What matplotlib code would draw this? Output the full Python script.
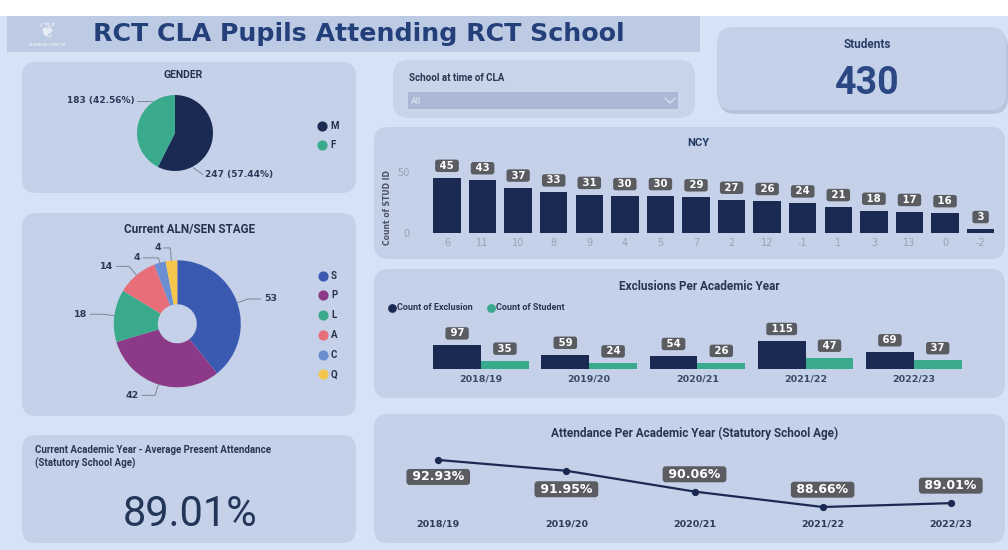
"""RCT CLA pupils dashboard - static rebuild of the Power BI page (1008x550 px)."""
import numpy as np
import matplotlib
matplotlib.use("Agg")
import matplotlib.pyplot as plt
from matplotlib.patches import FancyBboxPatch, Rectangle

# ---------------- data ----------------
GENDER = ["M", "F"]
GENDER_N = [247, 183]
STAGE = ["S", "P", "L", "A", "C", "Q"]
STAGE_N = [53, 42, 18, 14, 4, 4]
NCY = ["6", "11", "10", "8", "9", "4", "5", "7", "2", "12", "-1", "1", "3", "13", "0", "-2"]
NCY_N = [45, 43, 37, 33, 31, 30, 30, 29, 27, 26, 24, 21, 18, 17, 16, 3]
YEARS = ["2018/19", "2019/20", "2020/21", "2021/22", "2022/23"]
EXCLUSIONS = [97, 59, 54, 115, 69]
EXCL_STUDENTS = [35, 24, 26, 47, 37]
ATTENDANCE = [92.93, 91.95, 90.06, 88.66, 89.01]
STUDENTS_TOTAL = 430
CURRENT_ATTENDANCE = 89.01

# ---------------- style ----------------
NAVY = "#1b2a52"
TEAL = "#3aaa8c"
PAGE = "#d6e3f7"
PANEL = "#c4d1e8"
BANNER = "#bccae3"
INK = "#263249"
LBOX = "#5a5c61"
GREY = "#98a2b4"
LEADER = "#7d879a"
STAGE_COLORS = ["#3a59b0", "#8c3a87", "#3aaa8c", "#e86f79", "#6b8fd2", "#f4c64c"]
TITLE_FONT = ["Roboto", "DejaVu Sans"]

W, H = 1008, 550
plt.rcParams["font.family"] = ["DejaVu Sans"]

fig = plt.figure(figsize=(W / 100, H / 100), dpi=100)
fig.patch.set_facecolor(PAGE)
bg = fig.add_axes([0, 0, 1, 1])
bg.set_xlim(0, W); bg.set_ylim(H, 0); bg.axis("off")


def px_axes(x0, y0, x1, y1):
    """axes placed by pixel box (top-left origin)"""
    ax = fig.add_axes([x0 / W, 1 - y1 / H, (x1 - x0) / W, (y1 - y0) / H])
    ax.set_facecolor("none")
    return ax


def card(x0, y0, x1, y1, fc=PANEL, r=14, shadow=False):
    if shadow:
        bg.add_patch(FancyBboxPatch((x0 + r + 2, y0 + r + 4), x1 - x0 - 2 * r, y1 - y0 - 2 * r,
                                    boxstyle=f"round,pad={r}", fc="#9fadc6", ec="none", alpha=0.55))
    bg.add_patch(FancyBboxPatch((x0 + r, y0 + r), x1 - x0 - 2 * r, y1 - y0 - 2 * r,
                                boxstyle=f"round,pad={r}", fc=fc, ec="none"))


def label_box(ax, x, y, s, dy, size=7.3):
    ax.annotate(f" {s} ", (x, y), xytext=(0, dy), textcoords="offset pixels",
                ha="center", va="center", color="white", fontsize=size, fontweight="bold",
                bbox=dict(boxstyle="round,pad=0.12,rounding_size=0.25", fc=LBOX, ec="none"),
                annotation_clip=False, zorder=6)


def clean(ax):
    ax.set_yticks([])
    for sp in ax.spines.values():
        sp.set_visible(False)


# ---------------- page chrome ----------------
bg.add_patch(Rectangle((0, 0), W, 16, fc="white", ec="none"))
bg.add_patch(Rectangle((7, 16), 693, 36, fc=BANNER, ec="none"))
bg.text(93, 34.5, "RCT CLA Pupils Attending RCT School", fontsize=18.2, fontweight="bold",
        color="#23407a", va="center")
bg.text(47, 45, "RHONDDA CYNON TAF", fontsize=2.3, color="white", ha="center", va="center")
bg.text(47, 31, "\u2766", fontsize=15, color="#eef3fb", ha="center", va="center", alpha=0.85)

card(22, 62, 356, 193)
card(22, 213, 356, 416)
card(22, 435, 356, 543)
card(393, 60, 695, 118, fc="#c8d4ea", r=16)
card(374, 127, 1005, 259)
card(374, 269, 1005, 398)
card(374, 414, 1005, 543)
card(717, 27, 1006, 110, r=16, shadow=True)

# ---------------- students KPI ----------------
bg.text(867, 44, "Students", fontsize=8.5, fontweight="bold", color="#2b3f66",
        ha="center", va="center", family=TITLE_FONT)
bg.text(867, 84, f"{STUDENTS_TOTAL}", fontsize=27, fontweight="bold", color="#2b4784",
        ha="center", va="center", family=TITLE_FONT)

# ---------------- slicer ----------------
bg.text(409, 78, "School at time of CLA", fontsize=7, fontweight="bold", color="#2a3550",
        va="center", family=TITLE_FONT)
bg.add_patch(Rectangle((408, 92), 270, 17, fc="#aab8d6", ec="none"))
bg.text(411, 101, "All", fontsize=6.5, color="#e6ecf7", va="center", family=TITLE_FONT)
bg.plot([665, 670, 675], [98, 103, 98], color="#e0e7f3", lw=0.8)

# ---------------- gender pie ----------------
bg.text(183, 75, "GENDER", fontsize=7.5, fontweight="bold", color=INK, ha="center",
        va="center", family=TITLE_FONT)
axg = px_axes(137, 95, 213, 171)
wg, _ = axg.pie(GENDER_N, colors=[NAVY, TEAL], startangle=90, counterclock=False,
                radius=1, wedgeprops=dict(linewidth=0))
axg.set_xlim(-1, 1); axg.set_ylim(-1, 1)
total = sum(GENDER_N)
# leader anchor angle, end offset (in radius units)
GENDER_LEADERS = [(-62, 0.24, -0.17), (125, -0.40, 0.0)]
for n, (ang, ex, ey) in zip(GENDER_N, GENDER_LEADERS):
    t = np.deg2rad(ang)
    sx, sy = 1.04 * np.cos(t), 1.04 * np.sin(t)
    axg.plot([sx, sx + ex], [sy, sy + ey], color=LEADER, lw=0.7, clip_on=False)
    side = 1 if ex > 0 else -1
    axg.text(sx + ex + 0.07 * side, sy + ey, f"{n} ({n / total * 100:.2f}%)",
             ha="left" if side > 0 else "right", va="center", fontsize=6.5,
             fontweight="bold", color="#2b3a5a")
for i, (g, c) in enumerate(zip(GENDER, [NAVY, TEAL])):
    y = 126 + i * 19
    bg.scatter(322, y, s=40, color=c, zorder=3)
    bg.text(330, y, g, fontsize=7, fontweight="bold", color=INK, va="center", family=TITLE_FONT)

# ---------------- ALN/SEN donut ----------------
bg.text(190, 230, "Current ALN/SEN STAGE", fontsize=8.5, fontweight="bold", color=INK,
        ha="center", va="center", family=TITLE_FONT)
cx, cy, r = 177.3, 323.8, 63.5
axd = px_axes(cx - r, cy - r, cx + r, cy + r)
wd, _ = axd.pie(STAGE_N, colors=STAGE_COLORS, startangle=90, counterclock=False, radius=1,
                wedgeprops=dict(width=(r - 19.5) / r, linewidth=0))
axd.set_xlim(-1, 1); axd.set_ylim(-1, 1)
STAGE_LEADERS = [(1.18, 0.2)] * 4 + [(1.08, 0.24), (1.2, 0.1)]
for w, n, (er, hl) in zip(wd, STAGE_N, STAGE_LEADERS):
    t = np.deg2rad((w.theta1 + w.theta2) / 2)
    c, s = np.cos(t), np.sin(t)
    side = 1 if c > 0 else -1
    xs = [c, er * c, er * c + side * hl]
    ys = [s, er * s, er * s]
    axd.plot(xs, ys, color=LEADER, lw=0.7, clip_on=False)
    axd.text(xs[-1] + side * 0.05, ys[-1], str(n), ha="left" if side > 0 else "right",
             va="center", fontsize=6.8, fontweight="bold", color="#2b3a5a")
for i, (g, c) in enumerate(zip(STAGE, STAGE_COLORS)):
    y = 275.7 + i * 19.7
    bg.scatter(323, y, s=40, color=c, zorder=3)
    bg.text(331, y, g, fontsize=7, fontweight="bold", color=INK, va="center", family=TITLE_FONT)

# ---------------- current attendance KPI ----------------
bg.text(35, 450, "Current Academic Year - Average Present Attendance", fontsize=7,
        fontweight="bold", color="#2b3550", va="center", family=TITLE_FONT)
bg.text(35, 463, "(Statutory School Age)", fontsize=7, fontweight="bold", color="#2b3550",
        va="center", family=TITLE_FONT)
bg.text(190, 514, f"{CURRENT_ATTENDANCE:.2f}%", fontsize=30, color="#233558",
        ha="center", va="center", family=TITLE_FONT)

# ---------------- NCY bars ----------------
bg.text(698, 143, "NCY", fontsize=8, fontweight="bold", color="#233a66", ha="center",
        va="center", family=TITLE_FONT)
axn = px_axes(429.2, 159.5, 998.4, 232.7)
xn = np.arange(len(NCY))
axn.bar(xn, NCY_N, width=0.77, color=NAVY)
axn.set_xlim(-0.5, len(NCY) - 0.5); axn.set_ylim(0, 60)
for i, v in enumerate(NCY_N):
    label_box(axn, i, v, v, 12)
clean(axn)
axn.set_xticks(xn, NCY)
axn.set_yticks([0, 50])
axn.tick_params(axis="x", length=0, pad=4, labelsize=7, labelcolor=GREY)
axn.tick_params(axis="y", length=0, pad=14, labelsize=7, labelcolor=GREY)
axn.set_ylabel("Count of STUD ID", fontsize=5.5, fontweight="bold", color="#4a5264")
axn.yaxis.set_label_coords(-0.066, 0.344)

# ---------------- exclusions grouped bars ----------------
bg.text(699, 286, "Exclusions Per Academic Year", fontsize=8.5, fontweight="bold",
        color="#2a3550", ha="center", va="center", family=TITLE_FONT)
bg.scatter(392, 308, s=28, color=NAVY, zorder=3)
bg.text(397, 308, "Count of Exclusion", fontsize=6.5, fontweight="bold", color="#2a3550",
        va="center", family=TITLE_FONT)
bg.scatter(491, 308, s=28, color=TEAL, zorder=3)
bg.text(496, 308, "Count of Student", fontsize=6.5, fontweight="bold", color="#2a3550",
        va="center", family=TITLE_FONT)
axe = px_axes(426.9, 330, 967.9, 369.3)
xe = np.arange(len(YEARS))
bw = 0.442
axe.bar(xe - bw / 2, EXCLUSIONS, bw, color=NAVY)
axe.bar(xe + bw / 2, EXCL_STUDENTS, bw, color=TEAL)
axe.set_xlim(-0.5, len(YEARS) - 0.5); axe.set_ylim(0, 159.4)
for i in xe:
    label_box(axe, i - bw / 2, EXCLUSIONS[i], EXCLUSIONS[i], 12)
    label_box(axe, i + bw / 2, EXCL_STUDENTS[i], EXCL_STUDENTS[i], 12)
clean(axe)
axe.set_xticks(xe, YEARS)
axe.tick_params(axis="x", length=0, pad=4, labelsize=6.8, labelcolor="#3c4a6a")
for lab in axe.get_xticklabels():
    lab.set_fontweight("bold")

# ---------------- attendance line ----------------
bg.text(694.5, 433, "Attendance Per Academic Year (Statutory School Age)", fontsize=8.5,
        fontweight="bold", color="#2a3550", ha="center", va="center", family=TITLE_FONT)
axa = px_axes(399.8, 455, 989.2, 508)
xa = np.arange(len(YEARS))
axa.plot(xa, ATTENDANCE, color=NAVY, lw=1.6, marker="o", ms=4.2, clip_on=False, zorder=4)
axa.set_xlim(-0.3, len(YEARS) - 0.7); axa.set_ylim(88.57, 93.38)
ATT_LABEL_DY = [-17, -18.5, 17.3, 17.3, 17.5]
for i, (v, dy) in enumerate(zip(ATTENDANCE, ATT_LABEL_DY)):
    label_box(axa, i, v, f"{v:.2f}%", dy, size=9)
clean(axa)
axa.set_xticks(xa, YEARS)
axa.tick_params(axis="x", length=0, pad=8.5, labelsize=6.8, labelcolor="#2f3a55")
for lab in axa.get_xticklabels():
    lab.set_fontweight("bold")

fig.savefig("out.png", dpi=100, facecolor=PAGE)
